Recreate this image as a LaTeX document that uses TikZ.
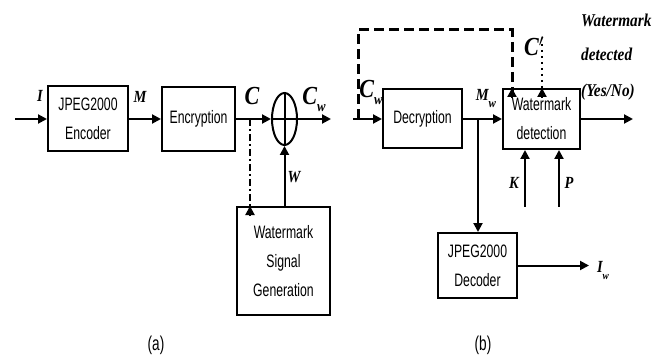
\documentclass[tikz,border=0pt]{standalone}
\usepackage{fontspec}
\setmainfont[FakeStretch=0.68]{Liberation Sans}
\newfontfamily\lblfont[FakeStretch=0.85]{Liberation Serif}
\usetikzlibrary{arrows.meta,shapes.geometric}
\newcommand{\lbl}[2]{{\lblfont\bfseries\itshape\fontsize{#1}{#1}\selectfont #2}}
\newcommand{\subw}[3]{\lbl{#1}{#2}\raisebox{-7pt}{\lbl{#3}{w}}}
\begin{document}
\begin{tikzpicture}[x=1pt,y=-1pt,
  box/.style={draw,line width=2pt,inner sep=0pt,align=center,
    font=\fontsize{18}{29}\selectfont},
  arr/.style={line width=2pt,-{Triangle[length=9pt,width=9pt]}},
  fbline/.style={line width=3pt,dash pattern=on 10pt off 5pt},
  ddline/.style={line width=2pt,dash pattern=on 7pt off 3pt on 2pt off 3pt},
  dotline/.style={line width=2pt,dash pattern=on 2pt off 4pt},
  lab/.style={inner sep=0pt}]
\useasboundingbox (0,0) rectangle (652,363);
% (a)
\node[box,minimum width=80pt,minimum height=65pt] (enc) at (88,119) {JPEG2000\\Encoder};
\node[box,minimum width=73pt,minimum height=64pt] (encr) at (198.5,119) {Encryption};
\node[draw,line width=2pt,ellipse,minimum width=25pt,minimum height=52pt,inner sep=0pt] (plus) at (284.5,119) {};
\draw[line width=2pt] (plus.west) -- (plus.east) (plus.north) -- (plus.south);
\node[box,minimum width=93pt,minimum height=108pt] (wsg) at (283.5,261) {Watermark\\Signal\\Generation};
\coordinate (in1) at (15,119);
\coordinate (out1) at (331,119);
\coordinate (tap) at (250,119);
\draw[arr] (in1) -- (enc.west);
\draw[arr] (enc) -- (encr);
\draw[arr] (encr.east) -- (plus.west);
\draw[arr] (plus.east) -- (out1);
\draw[ddline] (tap) -- ([yshift=-9pt]tap |- wsg.north);
\draw[arr] ([yshift=-10pt]tap |- wsg.north) -- (tap |- wsg.north);
\draw[arr] (wsg.north -| plus) -- (plus.south);
\node[lab] (lI) at (40,96) {\lbl{17}{I}};
\node[lab] (lM) at (140,97) {\lbl{17}{M}};
\node[lab] (lC) at (252,96) {\lbl{26}{C}};
\node[lab] (lCw) at (314,99) {\subw{26}{C}{15}};
\node[lab] (lW) at (294,177) {\lbl{17}{W}};
\node[lab] (la) at (156,345) {\fontsize{20}{20}\selectfont (a)};
% (b)
\node[box,minimum width=79pt,minimum height=59pt] (dec) at (422.5,119) {Decryption};
\node[box,minimum width=77pt,minimum height=60pt] (wd) at (541.5,119) {Watermark\\detection};
\node[box,minimum width=79pt,minimum height=65pt] (jd) at (477.5,265.5) {JPEG2000\\Decoder};
\coordinate (in2) at (353,119);
\coordinate (fb) at (358,119);
\coordinate (fbtop) at (512,30);
\coordinate (br) at (478,119);
\coordinate (out2) at (633,119);
\coordinate (cp) at (542,44);
\coordinate (kk) at (525,207);
\coordinate (pp) at (559,207);
\coordinate (iw) at (589,265.5);
\draw[arr] (in2) -- (dec.west);
\draw[fbline] (fb) |- (fbtop) -- ([yshift=-9pt]fbtop |- wd.north);
\draw[arr] ([yshift=-10pt]fbtop |- wd.north) -- (fbtop |- wd.north);
\draw[arr] (dec) -- (wd);
\draw[arr] (br) -- (br |- jd.north);
\draw[arr] (wd.east) -- (out2);
\draw[dotline] (cp) -- ([yshift=-9pt]cp |- wd.north);
\draw[arr] ([yshift=-10pt]cp |- wd.north) -- (cp |- wd.north);
\draw[arr] (kk) -- (kk |- wd.south);
\draw[arr] (pp) -- (pp |- wd.south);
\draw[arr] (jd.east) -- (iw);
\node[lab] (lCw2) at (371,92) {\subw{26}{C}{15}};
\node[lab] (lMw) at (486,98) {\subw{17}{M}{13}};
\node[lab] (lCp) at (534,46) {\lbl{26}{C$'$}};
\node[lab] (lK) at (514,183) {\lbl{17}{K}};
\node[lab] (lP) at (569,183) {\lbl{17}{P}};
\node[lab] (lIw) at (603,270) {\subw{17}{I}{11}};
\node[lab,anchor=west] (t1) at (581,20) {\lbl{18}{Watermark}};
\node[lab,anchor=west] (t2) at (581,54) {\lbl{18}{detected}};
\node[lab,anchor=west] (t3) at (581,92) {\lbl{18}{(Yes/No)}};
\node[lab] (lb) at (483,345) {\fontsize{20}{20}\selectfont (b)};
\end{tikzpicture}
\end{document}
